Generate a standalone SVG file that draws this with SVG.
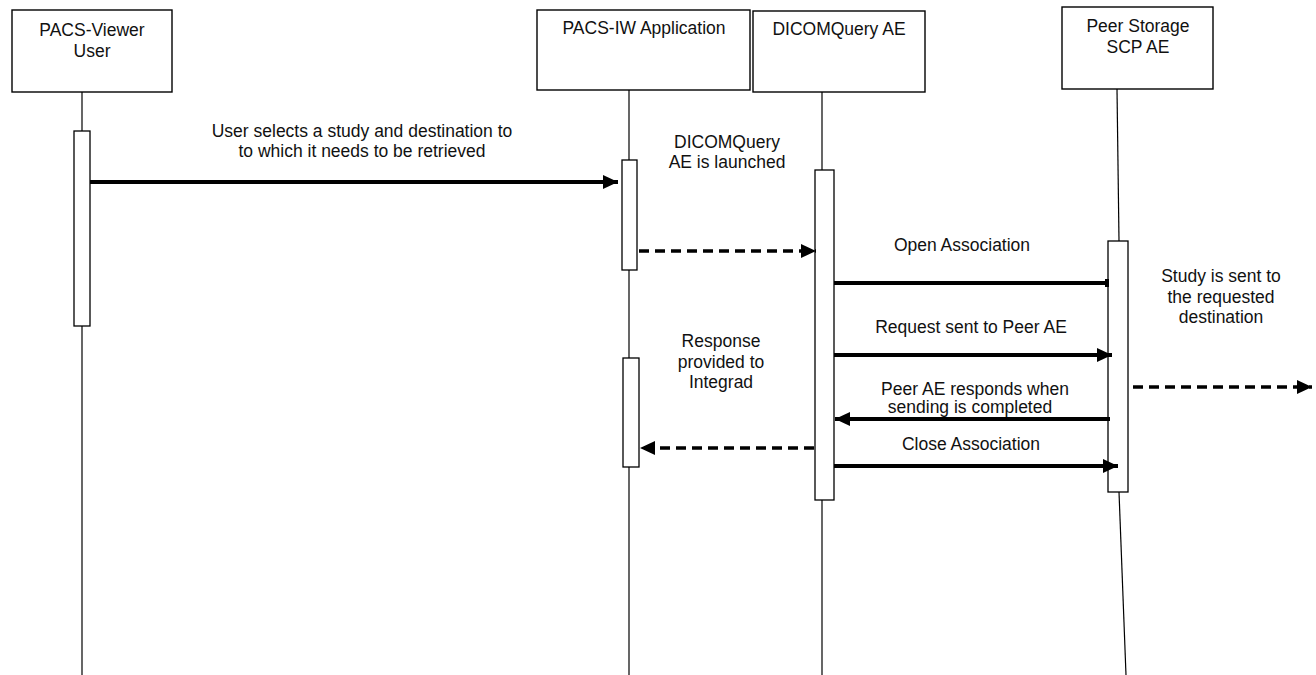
<svg xmlns="http://www.w3.org/2000/svg" width="1316" height="675" viewBox="0 0 1316 675">
<style>
.box{fill:#fff;stroke:#000;stroke-width:1.4}
.act{fill:#fff;stroke:#000;stroke-width:1.3}
.life{stroke:#000;stroke-width:1.2;fill:none}
.t{font-family:"Liberation Sans",Arial,sans-serif;font-size:17.5px;fill:#111;text-anchor:middle}
.msg{stroke:#000;stroke-width:4;fill:none}
.dash{stroke:#000;stroke-width:3.5;fill:none;stroke-dasharray:10,6}
</style>
<defs>
<marker id="ah" viewBox="0 0 15 14" refX="15" refY="7" markerWidth="15" markerHeight="14" markerUnits="userSpaceOnUse" orient="auto">
<path d="M0,0 L15,7 L0,14 Z" fill="#000"/>
</marker>
</defs>
<rect width="1316" height="675" fill="#fff"/>
<g id="user">
<rect class="box" x="12" y="10" width="160" height="82"/>
<text class="t" x="92" y="36">PACS-Viewer</text>
<text class="t" x="92" y="57">User</text>
<line class="life" x1="82" y1="92" x2="82" y2="131"/>
<line class="life" x1="82" y1="326" x2="82" y2="675"/>
<rect class="act" x="74" y="131" width="16" height="195"/>
</g>
<g id="pacsiw">
<rect class="box" x="537" y="10" width="213" height="80"/>
<text class="t" x="644" y="34">PACS-IW Application</text>
<line class="life" x1="629" y1="90" x2="629" y2="160"/>
<line class="life" x1="629" y1="270" x2="629" y2="358"/>
<line class="life" x1="629" y1="467" x2="629" y2="675"/>
<rect class="act" x="622" y="160" width="15" height="110"/>
<rect class="act" x="623" y="358" width="16" height="109"/>
</g>
<g id="dicomquery">
<rect class="box" x="753" y="11" width="172" height="81"/>
<text class="t" x="839" y="35">DICOMQuery AE</text>
<line class="life" x1="822" y1="92" x2="822" y2="170"/>
<line class="life" x1="822" y1="500" x2="822" y2="675"/>
<rect class="act" x="815" y="170" width="19" height="330"/>
</g>
<g id="peer">
<rect class="box" x="1062" y="7" width="151" height="82"/>
<text class="t" x="1138" y="32">Peer Storage</text>
<text class="t" x="1138" y="53">SCP AE</text>
<line class="life" x1="1117" y1="89" x2="1119" y2="241"/>
<line class="life" x1="1119" y1="492" x2="1126" y2="675"/>
<rect class="act" x="1108" y="241" width="20" height="251"/>
</g>
<g id="connectors">
<line class="msg" x1="90" y1="182" x2="618" y2="182" marker-end="url(#ah)"/>
<text class="t" x="362" y="137">User selects a study and destination to</text>
<text class="t" x="362" y="157">to which it needs to be retrieved</text>
<line class="dash" x1="639" y1="251" x2="816" y2="251" marker-end="url(#ah)"/>
<text class="t" x="727" y="148">DICOMQuery</text>
<text class="t" x="727" y="168">AE is launched</text>
<line class="msg" x1="834" y1="283" x2="1108" y2="283"/>
<rect x="1105" y="279" width="4" height="8" fill="#000"/>
<text class="t" x="962" y="251">Open Association</text>
<line class="msg" x1="834" y1="355" x2="1112" y2="355" marker-end="url(#ah)"/>
<text class="t" x="971" y="333">Request sent to Peer AE</text>
<line class="msg" x1="1110" y1="419" x2="835" y2="419" marker-end="url(#ah)"/>
<text class="t" x="975" y="395">Peer AE responds when</text>
<text class="t" x="970" y="413">sending is completed</text>
<line class="msg" x1="834" y1="466" x2="1118" y2="466" marker-end="url(#ah)"/>
<text class="t" x="971" y="450">Close Association</text>
<line class="dash" x1="814" y1="448" x2="640" y2="448" marker-end="url(#ah)"/>
<text class="t" x="721" y="347">Response</text>
<text class="t" x="721" y="368">provided to</text>
<text class="t" x="721" y="388">Integrad</text>
<line class="dash" x1="1133" y1="387" x2="1312" y2="387" marker-end="url(#ah)"/>
<text class="t" x="1221" y="282">Study is sent to</text>
<text class="t" x="1221" y="303">the requested</text>
<text class="t" x="1221" y="323">destination</text>
</g>
</svg>
